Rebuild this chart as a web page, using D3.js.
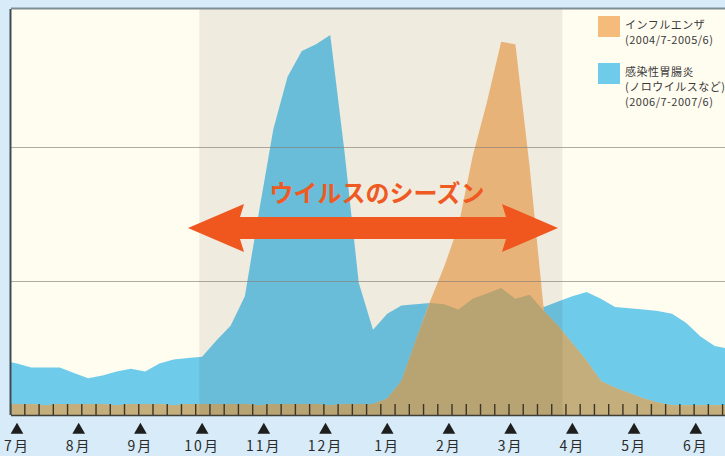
<!DOCTYPE html>
<html lang="ja">

<head>
  <meta charset="UTF-8">
  <title>ウイルスのシーズン</title>
  <script src="https://d3js.org/d3.v7.min.js"></script>
  <style>
    body { margin: 0; background: #d7ecf8; }
    svg { display: block; font-family: "Noto Sans CJK JP", "Noto Sans", sans-serif; }
  </style>
</head>

<body>
  <script>
    // month labels (July .. June)
    const months = ['7月', '8月', '9月', '10月', '11月', '12月', '1月', '2月', '3月', '4月', '5月', '6月'];

    // weekly values, first entry is the week before 7月
    const noroWeekly = [4.1, 3.9, 3.6, 3.6, 3.6, 3.2, 2.8, 3.0, 3.3, 3.5, 3.3, 3.9, 4.2, 4.3, 4.4, 5.6,
      6.7, 8.9, 15.2, 21.3, 25.2, 27.1, 27.6, 28.3, 19.6, 9.9, 6.4, 7.6, 8.2, 8.3, 8.4, 8.3, 7.9, 8.7,
      9.1, 9.5, 8.7, 9.0, 8.1, 8.5, 8.9, 9.2, 8.7, 8.1, 8.0, 7.9, 7.8, 7.6, 6.9, 5.9, 5.2, 5.0];
    const fluWeekly = [0.9, 0.9, 0.9, 0.8, 0.9, 0.9, 0.9, 0.9, 0.8, 0.9, 0.9, 0.9, 0.8, 0.9, 0.9, 0.9,
      0.9, 0.9, 0.8, 0.9, 0.9, 0.9, 0.9, 0.8, 0.9, 0.9, 0.9, 1.3, 2.6, 5.6, 8.5, 11.1, 14.1, 19.3,
      23.3, 27.8, 27.6, 18.5, 7.8, 6.7, 5.4, 4.1, 2.6, 2.1, 1.7, 1.3, 1.0, 0.8, 0.8, 0.8, 0.8, 0.8];
    const gridValues = [10, 20];
    const seasonWeeks = [12.8, 38.3];
    const seasonLabel = 'ウイルスのシーズン';
    const legendItems = [
      { color: '#f5bb7b', lines: ['インフルエンザ', '(2004/7-2005/6)'] },
      { color: '#6fcbea', lines: ['感染性胃腸炎', '(ノロウイルスなど)', '(2006/7-2007/6)'] }
    ];

    const w = 725;
    const h = 456;
    const plot = { left: 11, top: 9, right: 725, bottom: 415 };

    const xScale = d3.scaleLinear().domain([0, 52]).range([17, 17 + 52 * 14.24]);
    const yScale = d3.scaleLinear().domain([0, 30]).range([416, 12]);

    const svg = d3.select('body').append('svg')
      .attr('width', w)
      .attr('height', h);

    svg.append('clipPath').attr('id', 'clip')
      .append('rect')
      .attr('x', plot.left).attr('y', plot.top)
      .attr('width', plot.right - plot.left).attr('height', plot.bottom - plot.top);

    // plot background
    svg.append('rect')
      .attr('x', plot.left).attr('y', plot.top)
      .attr('width', plot.right - plot.left).attr('height', plot.bottom - plot.top)
      .attr('fill', '#fffcf0');

    const g = svg.append('g').attr('clip-path', 'url(#clip)');

    const weeks = noroWeekly.map((d, i) => i - 1);
    const area = vals => d3.area()
      .x((d, i) => xScale(weeks[i]))
      .y0(yScale(0))
      .y1(d => yScale(d))(vals);

    g.append('path').attr('d', area(noroWeekly)).attr('fill', '#6fcbea');
    g.append('path').attr('d', area(fluWeekly)).attr('fill', '#f8c081');
    // overlap of both series
    g.append('path').attr('d', area(noroWeekly.map((d, i) => Math.min(d, fluWeekly[i])))).attr('fill', '#c4ae7b');

    // virus season shading
    g.append('rect')
      .attr('x', xScale(seasonWeeks[0])).attr('y', plot.top)
      .attr('width', xScale(seasonWeeks[1]) - xScale(seasonWeeks[0]))
      .attr('height', plot.bottom - plot.top)
      .attr('fill', '#2a1e10').attr('opacity', 0.075);

    // grid lines
    g.selectAll('.grid')
      .data(gridValues)
      .enter()
      .append('line')
      .attr('x1', plot.left).attr('x2', plot.right)
      .attr('y1', d => Math.round(yScale(d)) + 0.5)
      .attr('y2', d => Math.round(yScale(d)) + 0.5)
      .attr('stroke', '#857f74').attr('stroke-opacity', 0.65);

    // weekly ticks
    g.selectAll('.wtick')
      .data(d3.range(-1, 51))
      .enter()
      .append('line')
      .attr('x1', d => xScale(d + 0.55)).attr('x2', d => xScale(d + 0.55))
      .attr('y1', plot.bottom - 11).attr('y2', plot.bottom)
      .attr('stroke', '#3b3528').attr('stroke-width', 1.4);

    // frame
    svg.append('line')
      .attr('x1', plot.left).attr('x2', plot.right)
      .attr('y1', plot.top - 0.5).attr('y2', plot.top - 0.5)
      .attr('stroke', '#7f8d93').attr('stroke-width', 2);
    svg.append('line')
      .attr('x1', plot.left - 0.5).attr('x2', plot.left - 0.5)
      .attr('y1', plot.top).attr('y2', plot.bottom)
      .attr('stroke', '#3f4d52').attr('stroke-width', 2);
    svg.append('line')
      .attr('x1', plot.left).attr('x2', plot.right)
      .attr('y1', plot.bottom + 0.5).attr('y2', plot.bottom + 0.5)
      .attr('stroke', '#3f3f38').attr('stroke-width', 1.5);

    // month markers
    const monthX = i => xScale(i * 52 / 12);
    svg.selectAll('.tri')
      .data(months)
      .enter()
      .append('path')
      .attr('d', d3.symbol(d3.symbolTriangle, 70))
      .attr('transform', (d, i) => `translate(${monthX(i)},430)`)
      .attr('fill', '#1e1e1e');

    svg.selectAll('.mlabel')
      .data(months)
      .enter()
      .append('text')
      .attr('x', (d, i) => monthX(i))
      .attr('y', 451)
      .attr('text-anchor', 'middle')
      .attr('font-size', 14)
      .attr('letter-spacing', 2)
      .attr('fill', '#2a2a2a')
      .text(d => d);

    // season arrow
    const arrowY = 228;
    const left = 188, right = 558, headLen = 56, shaft = 11, head = 24;
    svg.append('path')
      .attr('d', `M${left},${arrowY} L${left + headLen},${arrowY - head} L${left + headLen - 4},${arrowY - shaft}
        L${right - headLen + 4},${arrowY - shaft} L${right - headLen},${arrowY - head} L${right},${arrowY}
        L${right - headLen},${arrowY + head} L${right - headLen + 4},${arrowY + shaft}
        L${left + headLen - 4},${arrowY + shaft} L${left + headLen},${arrowY + head} Z`)
      .attr('fill', '#f0571f');

    svg.append('text')
      .attr('x', 377).attr('y', 202)
      .attr('text-anchor', 'middle')
      .attr('font-size', 24)
      .attr('font-weight', 'bold')
      .attr('fill', '#ef5a22')
      .text(seasonLabel);

    // legend
    const legend = svg.append('g').attr('transform', 'translate(598,16)');
    let ly = 0;
    legendItems.forEach(item => {
      legend.append('rect')
        .attr('x', 0).attr('y', ly)
        .attr('width', 22).attr('height', 21)
        .attr('fill', item.color);
      item.lines.forEach((t, j) => {
        legend.append('text')
          .attr('x', 27).attr('y', ly + 13 + j * 15)
          .attr('font-size', 11)
          .attr('letter-spacing', 0.5)
          .attr('fill', '#3a3a3a')
          .text(t);
      });
      ly += 47;
    });
  </script>
</body>

</html>
